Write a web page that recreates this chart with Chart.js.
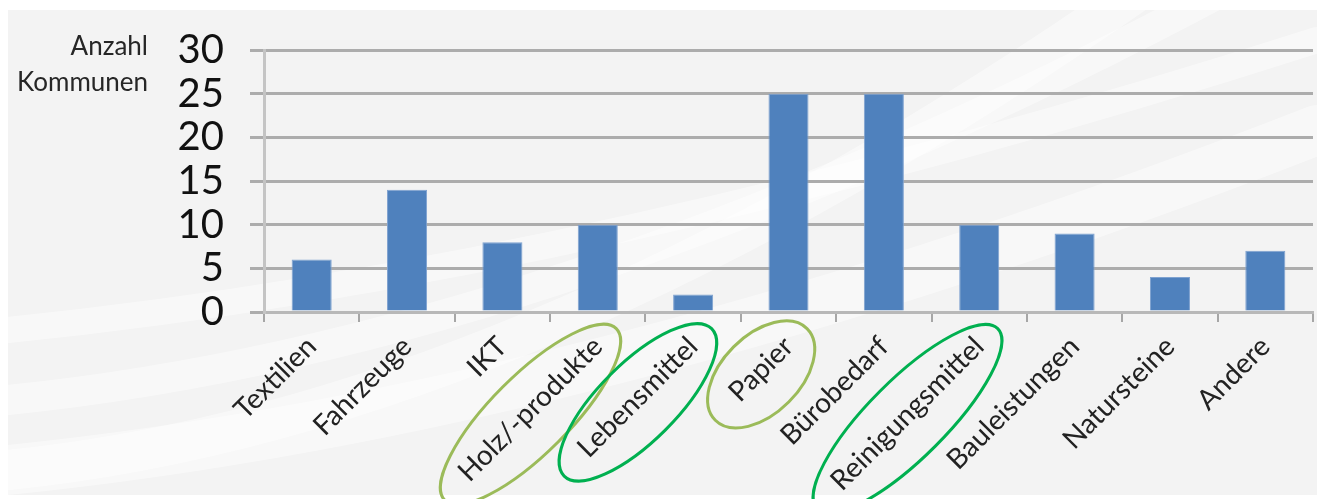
<!DOCTYPE html>
<html>
<head>
<meta charset="utf-8">
<script src="https://cdn.jsdelivr.net/npm/chart.js@4.4.1/dist/chart.umd.min.js"></script>
<style>
  html, body { margin: 0; padding: 0; background: #fff; }
  #box { width: 1317px; height: 499px; }
</style>
</head>
<body>
<div id="box"><canvas id="myChart"></canvas></div>
<script>
var categories = ["Textilien", "Fahrzeuge", "IKT", "Holz/-produkte", "Lebensmittel", "Papier",
  "Bürobedarf", "Reinigungsmittel", "Bauleistungen", "Natursteine", "Andere"];
var counts = [6, 14, 8, 10, 2, 25, 25, 10, 9, 4, 7];
var yTicks = [0, 5, 10, 15, 20, 25, 30];
var axisTitle = ["Anzahl", "Kommunen"];
// which labels get a ring, and in which green
var ringed = ["Holz/-produkte", "Lebensmittel", "Papier", "Reinigungsmittel"];
var ringColors = ["#9bbb59", "#00b050", "#9bbb59", "#00b050"];

var labelFont = {family: "Lato", size: 28};

var backdrop = {
  id: "backdrop",
  beforeDraw: function(chart) {
    var ctx = chart.ctx;
    ctx.save();
    ctx.fillStyle = "#f3f3f3";
    ctx.fillRect(8, 10, 1309, 485);
    // faint white swooshes
    ctx.strokeStyle = "rgba(255,255,255,0.45)";
    ctx.lineCap = "round";
    var bands = [[470, 40, 60], [400, 30, 140], [330, 26, 240], [470, 50, 330]];
    for (var i = 0; i < bands.length; i++) {
      ctx.lineWidth = bands[i][1];
      ctx.beginPath();
      ctx.moveTo(8, bands[i][0]);
      ctx.quadraticCurveTo(600, bands[i][0] - 60, 1317, bands[i][2] - 200);
      ctx.stroke();
    }
    ctx.restore();
  },
  afterDraw: function(chart) {
    var ctx = chart.ctx;
    ctx.save();
    ctx.fillStyle = "#262626";
    ctx.font = "26px Lato";
    ctx.textAlign = "right";
    ctx.textBaseline = "middle";
    ctx.fillText(axisTitle[0], 148, 47);
    ctx.fillText(axisTitle[1], 148, 83);

    var xs = chart.scales.x;
    var items = xs.getLabelItems(chart.chartArea);
    ctx.font = labelFont.size + "px " + labelFont.family;
    ctx.lineWidth = 3;
    for (var k = 0; k < ringed.length; k++) {
      var idx = categories.indexOf(ringed[k]);
      var it = items[idx];
      var tx = it.options.translation[0], ty = it.options.translation[1];
      var rot = it.options.rotation;
      var w = ctx.measureText(ringed[k]).width;
      var cx = tx - w / 2 * Math.cos(rot) + 12;
      var cy = ty - w / 2 * Math.sin(rot) + 17;
      ctx.strokeStyle = ringColors[k];
      ctx.beginPath();
      ctx.ellipse(cx, cy, w / 2 + 26, 39, rot, 0, Math.PI * 2);
      ctx.stroke();
    }
    ctx.restore();
  }
};

new Chart("myChart", {
  type: "bar",
  data: {
    labels: categories,
    datasets: [{
      data: counts,
      backgroundColor: "#4f81bd",
      borderColor: "#7fa2d0",
      borderWidth: 1,
      categoryPercentage: 1,
      barPercentage: 0.42
    }]
  },
  options: {
    responsive: true,
    maintainAspectRatio: false,
    animation: false,
    layout: {padding: {top: 40, right: 4, left: 0, bottom: 0}},
    plugins: {legend: {display: false}, tooltip: {enabled: false}},
    scales: {
      x: {
        grid: {offset: true, drawOnChartArea: false, drawTicks: true, tickLength: 10, color: "#a6a6a6", lineWidth: 2},
        border: {color: "#b8b8b8", width: 3},
        ticks: {
          maxRotation: 45, minRotation: 45, autoSkip: false,
          font: labelFont, color: "#222", padding: 8
        },
        afterFit: function(s) { s.height = 187; }
      },
      y: {
        min: 0, max: 30,
        afterBuildTicks: function(s) { s.ticks = yTicks.map(function(v) { return {value: v}; }); },
        grid: {color: "#acacac", lineWidth: 3, tickLength: 14},
        border: {color: "#c4c4c4", width: 3},
        ticks: {font: {family: "Lato", size: 40}, color: "#111", padding: 26, autoSkip: false},
        afterFit: function(s) { s.width = 264; }
      }
    }
  },
  plugins: [backdrop]
});
</script>
</body>
</html>
